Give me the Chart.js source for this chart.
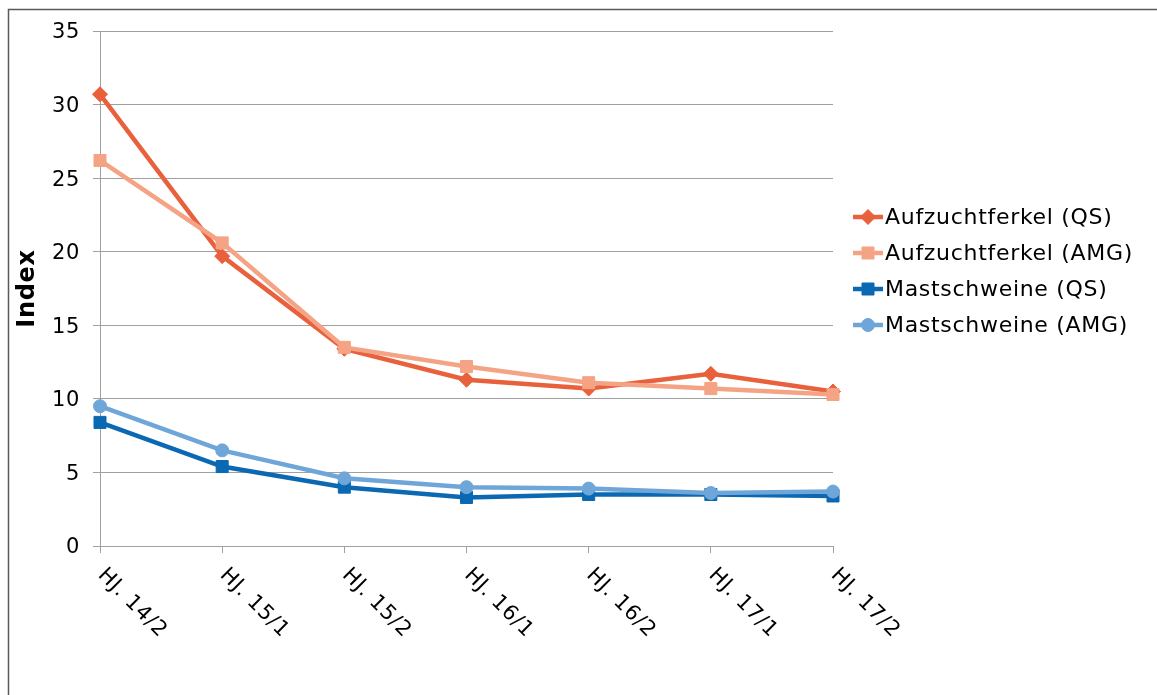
<!DOCTYPE html>
<html lang="de">
<head>
<meta charset="utf-8">
<title>Index</title>
<script src="https://cdn.jsdelivr.net/npm/chart.js@4.4.1/dist/chart.umd.min.js"></script>
<style>
    html, body { margin: 0; padding: 0; background: #fff; }
    #wrap { width: 1157px; height: 695px; position: relative; }
</style>
</head>
<body>
<div id="wrap"><canvas id="grafico"></canvas></div>
<script>
// Daten
const halbjahre = ["HJ. 14/2", "HJ. 15/1", "HJ. 15/2", "HJ. 16/1", "HJ. 16/2", "HJ. 17/1", "HJ. 17/2"];
const aufzuchtQS = [30.7, 19.7, 13.4, 11.3, 10.7, 11.7, 10.5];
const aufzuchtAMG = [26.2, 20.6, 13.5, 12.2, 11.1, 10.7, 10.3];
const mastQS = [8.4, 5.4, 4.0, 3.3, 3.5, 3.5, 3.4];
const mastAMG = [9.5, 6.5, 4.6, 4.0, 3.9, 3.6, 3.7];
const yMin = 0, yMax = 35, yStep = 5;

const schrift = '"DejaVu Sans", Verdana, sans-serif';

function serie(label, data, farbe, punkt, radius, order) {
    return {
        label: label,
        data: data,
        borderColor: farbe,
        backgroundColor: farbe,
        borderWidth: 4.5,
        pointStyle: punkt,
        pointRadius: radius,
        pointHoverRadius: radius,
        pointBackgroundColor: farbe,
        pointBorderColor: farbe,
        pointBorderWidth: 1,
        tension: 0,
        order: order
    };
}

// Rahmen oben und links, etwas breitere Schrift wie Verdana
const rahmen = {
    id: "rahmen",
    beforeDraw(chart) {
        const ctx = chart.ctx;
        ctx.letterSpacing = "0.7px";
        ctx.save();
        ctx.strokeStyle = "#5a5a5a";
        ctx.lineWidth = 1.5;
        ctx.beginPath();
        ctx.moveTo(8.5, chart.height);
        ctx.lineTo(8.5, 9.5);
        ctx.lineTo(chart.width, 9.5);
        ctx.stroke();
        ctx.restore();
    }
};

// Schräge Achsenbeschriftung und Legende
const beschriftung = {
    id: "beschriftung",
    afterDraw(chart) {
        const ctx = chart.ctx;
        const x = chart.scales.x;
        ctx.save();
        ctx.letterSpacing = "0.7px";
        ctx.font = "21px " + schrift;
        ctx.fillStyle = "#000";
        ctx.textAlign = "left";
        ctx.textBaseline = "middle";
        chart.data.labels.forEach(function (lab, i) {
            const px = x.getPixelForTick(i);
            ctx.save();
            ctx.translate(px + 1, x.top + 26);
            ctx.rotate(Math.PI / 4);
            ctx.fillText(lab, 0, 0);
            ctx.restore();
        });

        // Legende
        ctx.font = "22px " + schrift;
        chart.data.datasets.forEach(function (ds, i) {
            const y = 217 + i * 36;
            ctx.strokeStyle = ds.borderColor;
            ctx.lineWidth = 4.5;
            ctx.beginPath();
            ctx.moveTo(853, y);
            ctx.lineTo(883, y);
            ctx.stroke();
            ctx.fillStyle = ds.pointBackgroundColor;
            ctx.strokeStyle = ds.pointBorderColor;
            ctx.lineWidth = 1;
            Chart.helpers.drawPoint(ctx, { pointStyle: ds.pointStyle, radius: ds.pointRadius, rotation: 0, borderWidth: 1 }, 868, y);
            ctx.fillStyle = "#000";
            ctx.fillText(ds.label, 885, y + 1);
        });
        ctx.restore();
    }
};

const ctx = document.getElementById("grafico").getContext("2d");
new Chart(ctx, {
    type: "line",
    data: {
        labels: halbjahre,
        datasets: [
            serie("Aufzuchtferkel (QS)", aufzuchtQS, "#e8603c", "rectRot", 7.5, 4),
            serie("Aufzuchtferkel (AMG)", aufzuchtAMG, "#f4a484", "rect", 8.5, 3),
            serie("Mastschweine (QS)", mastQS, "#0a69b2", "rect", 8.5, 2),
            serie("Mastschweine (AMG)", mastAMG, "#6fa6d9", "circle", 6.5, 1)
        ]
    },
    options: {
        responsive: true,
        maintainAspectRatio: false,
        animation: false,
        layout: { padding: { left: 10, top: 31, right: 324, bottom: 0 } },
        plugins: {
            legend: { display: false },
            tooltip: { enabled: false }
        },
        scales: {
            x: {
                offset: false,
                border: { color: "#a0a0a0", width: 1 },
                grid: { drawOnChartArea: false, drawTicks: true, tickLength: 7, color: "#a0a0a0" },
                ticks: { display: false },
                afterFit: function (scale) { scale.height = 149; }
            },
            y: {
                min: yMin,
                max: yMax,
                border: { color: "#a0a0a0", width: 1 },
                grid: { color: "#a0a0a0", tickLength: 7 },
                ticks: {
                    stepSize: yStep,
                    padding: 13,
                    labelOffset: 2,
                    color: "#000",
                    font: { family: schrift, size: 21 }
                },
                title: {
                    display: true,
                    text: "Index",
                    color: "#000",
                    padding: 3,
                    font: { family: schrift, size: 24, weight: "bold" }
                },
                afterFit: function (scale) { scale.width = 90; }
            }
        }
    },
    plugins: [rahmen, beschriftung]
});
</script>
</body>
</html>
